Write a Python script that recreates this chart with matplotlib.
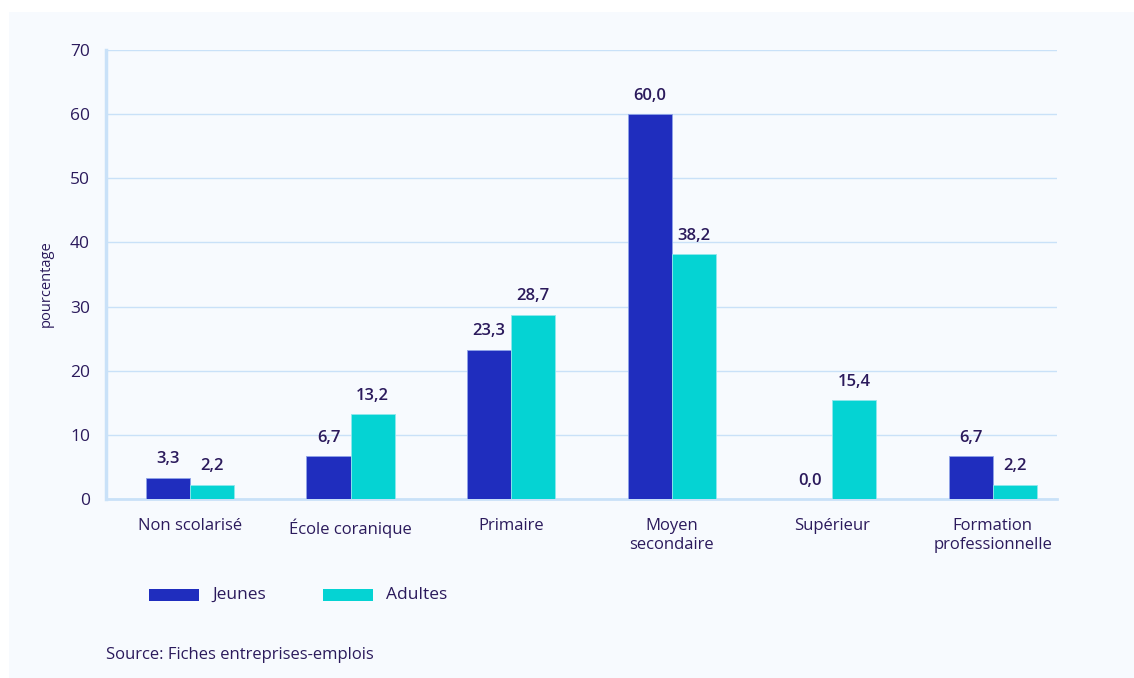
import matplotlib
matplotlib.use("Agg")
import matplotlib.pyplot as plt
import numpy as np
from matplotlib.patches import Rectangle

plt.rcParams["font.family"] = ["Open Sans", "DejaVu Sans"]

categories = ["Non scolarisé", "École coranique", "Primaire",
              "Moyen\nsecondaire", "Supérieur", "Formation\nprofessionnelle"]
jeunes = [3.3, 6.7, 23.3, 60.0, 0.0, 6.7]
adultes = [2.2, 13.2, 28.7, 38.2, 15.4, 2.2]
series_names = ["Jeunes", "Adultes"]
yticks = [0, 10, 20, 30, 40, 50, 60, 70]
source_text = "Source: Fiches entreprises-emplois"

TEXT = "#2B1A5C"
BLUE = "#1F2DBE"
CYAN = "#05D3D3"
GRID = "#C9E1F8"
PANEL = "#F7FAFE"

W, H = 1134, 678
fig = plt.figure(figsize=(W / 100, H / 100), dpi=100)
fig.patch.set_facecolor("white")
fig.patches.append(Rectangle((9 / W, 0), 1 - 9 / W, 1 - 12 / H,
                             transform=fig.transFigure, facecolor=PANEL,
                             edgecolor="none", zorder=-10))

ax = fig.add_axes([106 / W, 1 - 499 / H, (1057 - 106) / W, (499 - 50) / H])
ax.set_facecolor("none")

x = np.arange(len(categories))
bw = 0.275
b1 = ax.bar(x - bw / 2, jeunes, bw, color=BLUE, edgecolor="#8FA3E8",
            linewidth=0.6, zorder=3, label=series_names[0])
b2 = ax.bar(x + bw / 2, adultes, bw, color=CYAN, edgecolor="#8FE8EC",
            linewidth=0.6, zorder=3, label=series_names[1])

for bars, vals in ((b1, jeunes), (b2, adultes)):
    for rect, v in zip(bars, vals):
        ax.annotate(f"{v:.1f}".replace(".", ","),
                    (rect.get_x() + rect.get_width() / 2, v),
                    xytext=(0, 7.5), textcoords="offset points",
                    ha="center", va="bottom", fontsize=12,
                    fontweight="semibold", color=TEXT)

ax.set_xlim(-0.523, 5.4)
ax.set_ylim(0, 70)
ax.set_yticks(yticks)
ax.set_yticklabels([str(t) for t in yticks], fontsize=12.5, color=TEXT)
ax.set_xticks(x)
ax.set_xticklabels(categories, fontsize=12, color=TEXT, linespacing=1.2)
ax.tick_params(axis="x", length=0, pad=14)
ax.tick_params(axis="y", length=0, pad=11.5)
ax.grid(axis="y", color=GRID, linewidth=1.0, zorder=0)
ax.set_axisbelow(True)
for s in ("top", "right"):
    ax.spines[s].set_visible(False)
ax.spines["left"].set_color(GRID)
ax.spines["left"].set_linewidth(2.5)
ax.spines["bottom"].set_color(GRID)
ax.spines["bottom"].set_linewidth(2)

ax.set_ylabel("pourcentage", fontsize=10.5, color=TEXT)
ax.yaxis.set_label_coords((54 - 106) / (1057 - 106), 0.48)

# legend drawn by hand: swatch + label for each series
for sx, name, col in ((149, series_names[0], BLUE), (323, series_names[1], CYAN)):
    fig.patches.append(Rectangle((sx / W, 1 - 601 / H), 50 / W, 12 / H,
                                 transform=fig.transFigure, facecolor=col,
                                 edgecolor="none"))
    fig.text((sx + 63) / W, 1 - 595 / H, name, fontsize=12.5, color=TEXT,
             va="center", ha="left")

fig.text(106 / W, 1 - 655 / H, source_text, fontsize=12, color=TEXT,
         va="center", ha="left")

fig.savefig("out.png", dpi=100, facecolor=fig.get_facecolor())
